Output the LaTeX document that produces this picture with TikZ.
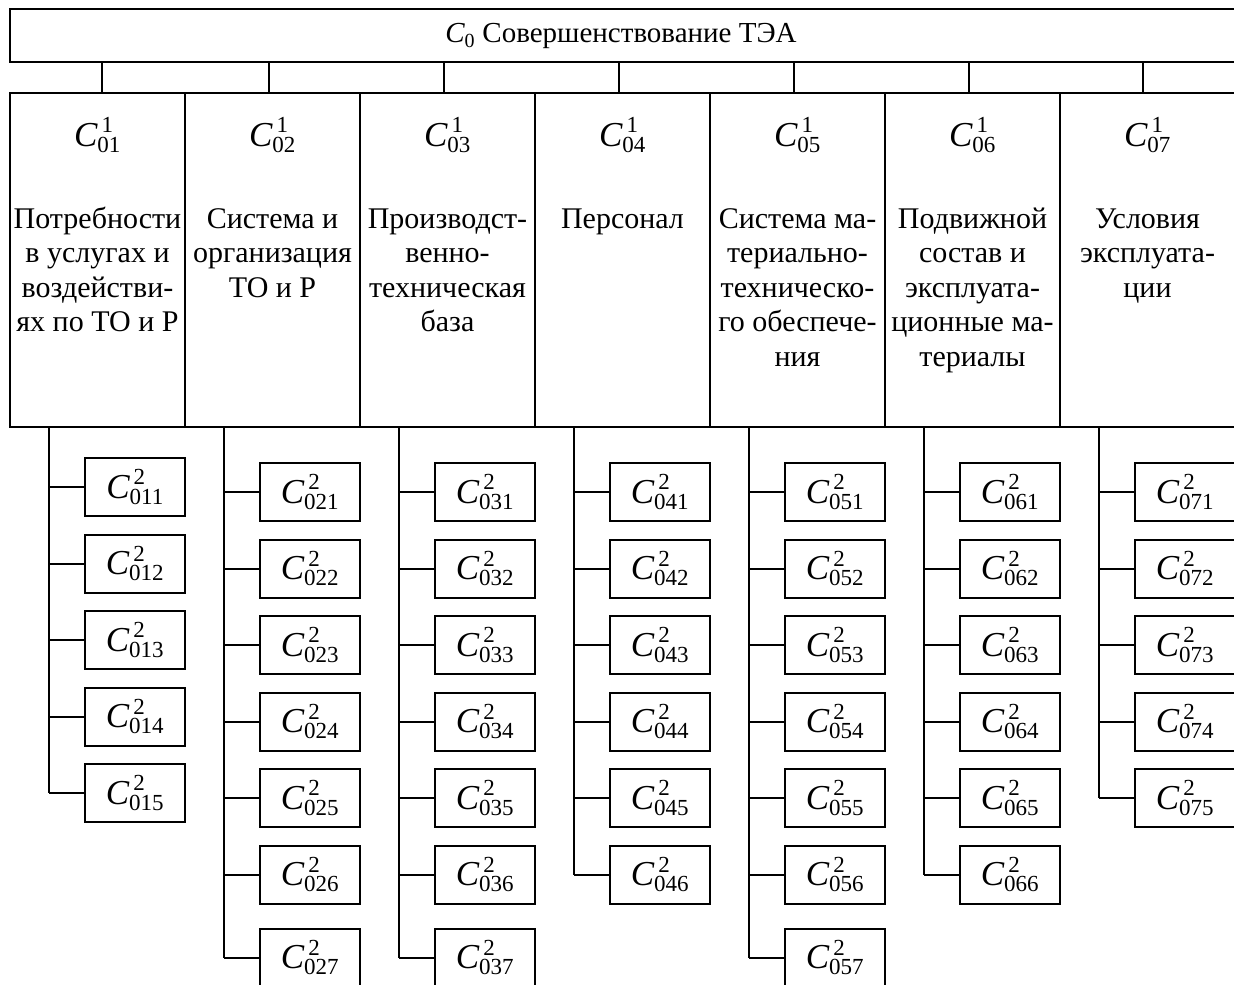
\documentclass[tikz,border=0pt]{standalone}
\usepackage{fontspec}
\usepackage{amsmath}
\setmainfont{Liberation Serif}
\DeclareMathSizes{35}{35}{23}{17}
\DeclareMathSizes{29}{29}{20}{15}
\newcommand\cname[2]{$\textit{C}^{\,\text{#1}}_{\text{#2}}$}
\begin{document}
\begin{tikzpicture}[x=1pt, y=-1pt, line width=2pt,
  every node/.style={font=\fontsize{30}{34.5}\selectfont, inner sep=0pt, outer sep=0pt},
  frame/.style={draw, anchor=north west},
  colbox/.style={frame, minimum width=175, minimum height=334},
  subbox/.style={frame, minimum width=100, minimum height=58, font=\fontsize{35}{40}\selectfont},
  head/.style={font=\fontsize{35}{40}\selectfont},
  coltext/.style={anchor=base, text width=174, align=flush center}]
\useasboundingbox (0,0) rectangle (1234,985);
\clip (0,0) rectangle (1234,985);
% top level
\node[frame, minimum width=1240, minimum height=53] (top) at (10,9) {};
\node[font=\fontsize{29}{34}\selectfont] (title) at (621,36) {$\textit{C}_{\text{0}}$ Совершенствование ТЭА};
% first level
\foreach \i/\dx/\txt in {
  1/4/{Потребности\\в услугах и\\воздействи-\\ях по ТО и Р},
  2/-3.5/{Система и\\организация\\ТО и Р},
  3/-3.5/{Производст-\\венно-\\техническая\\база},
  4/-3.5/{Персонал},
  5/-3.5/{Система ма-\\териально-\\техническо-\\го обеспече-\\ния},
  6/-3.5/{Подвижной\\состав и\\эксплуата-\\ционные ма-\\териалы},
  7/-4.5/{Условия\\эксплуата-\\ции}} {
  \node[colbox] (c\i) at ({10+175*(\i-1)},93) {};
  \draw ([xshift=\dx]c\i.north) -- ([xshift=\dx]c\i.north |- top.south);
  \node[head] (h\i) at ([yshift=-42]c\i.north) {\cname{1}{0\i}};
  \node[coltext] (t\i) at ([yshift=-135]c\i.north) {\txt};
}
% second level
\foreach \i/\n in {1/5, 2/7, 3/7, 4/6, 5/7, 6/6, 7/5} {
  \coordinate (b\i) at ([xshift=38.7]c\i.south west);
  \foreach \j in {1,...,\n} {
    \pgfmathsetmacro\ytop{(\i==1 ? 458 : 463) + 76.5*(\j-1) + (\j==7 ? 6.5 : 0)}
    \node[subbox] (s\i\j) at ({10+175*(\i-1)+75},\ytop) {\cname{2}{0\i\j}};
    \draw (b\i |- s\i\j.west) -- (s\i\j.west);
  }
  \draw (b\i) -- (b\i |- s\i\n.west);
}
\end{tikzpicture}
\end{document}
